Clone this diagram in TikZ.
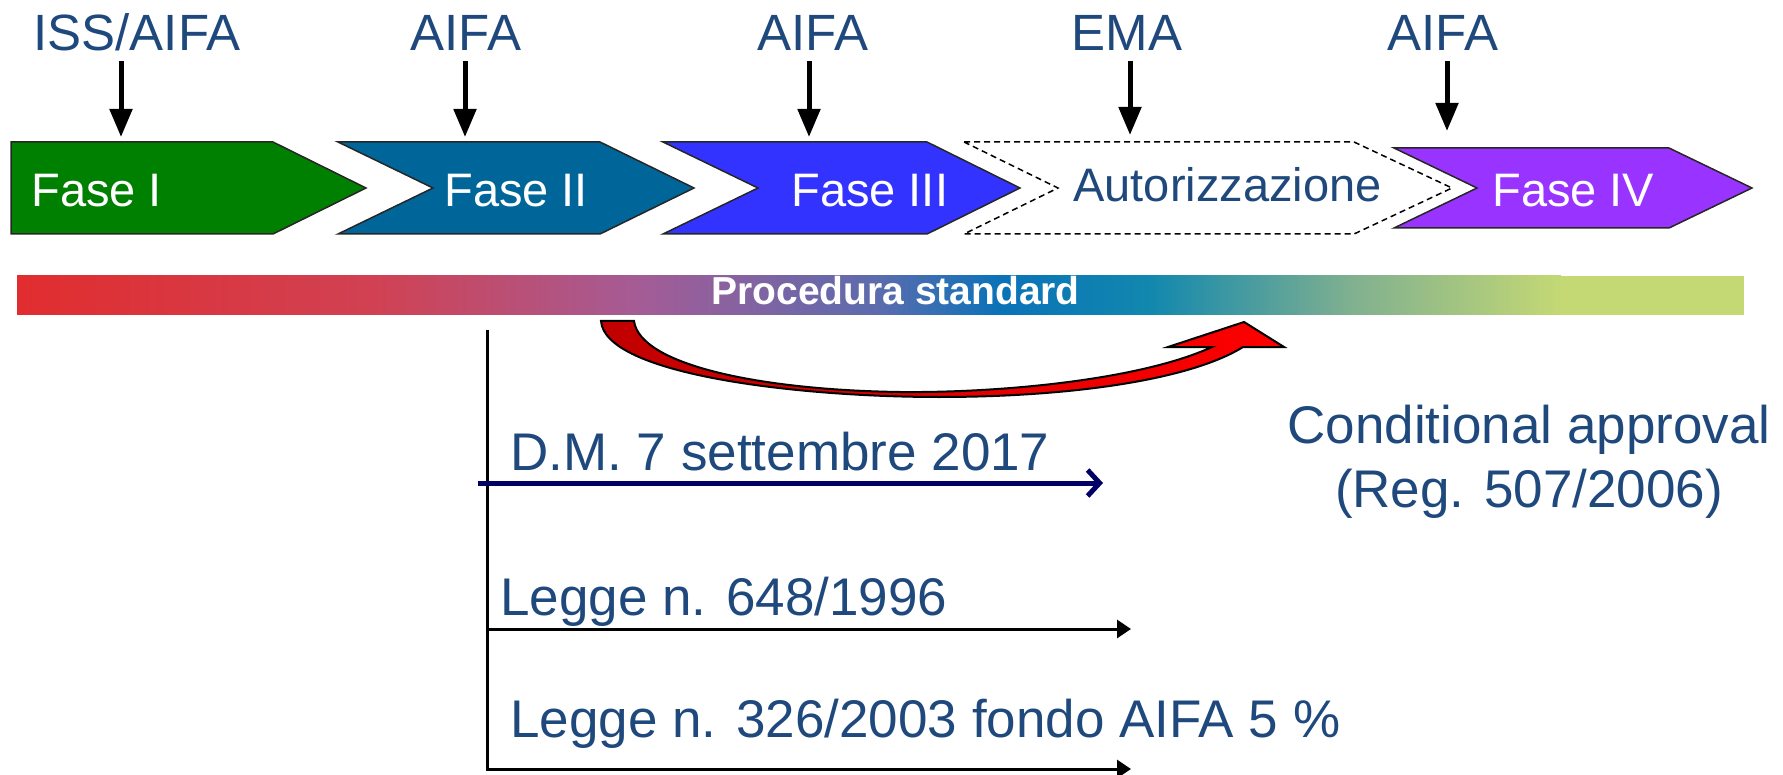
\documentclass[tikz,border=0pt]{standalone}
\usepackage{fontspec}
\setmainfont{Liberation Sans}
\usetikzlibrary{arrows.meta}

\definecolor{testo}{RGB}{31,73,125}
\definecolor{verde}{RGB}{0,128,0}
\definecolor{petrolio}{RGB}{0,102,153}
\definecolor{blu}{RGB}{51,51,255}
\definecolor{viola}{RGB}{153,51,255}
\definecolor{navy}{RGB}{0,0,102}
\definecolor{rossoscuro}{RGB}{192,0,0}
% barra
\definecolor{b1}{RGB}{225,45,47}
\definecolor{b2}{RGB}{208,66,84}
\definecolor{b3}{RGB}{164,92,150}
\definecolor{b4}{RGB}{90,108,174}
\definecolor{b5}{RGB}{10,114,184}
\definecolor{b6}{RGB}{18,136,174}
\definecolor{b7}{RGB}{128,176,144}
\definecolor{b8}{RGB}{196,216,116}

\begin{document}
\begin{tikzpicture}[x=0.5pt, y=-0.5pt,
			etichetta/.style={text=testo, font=\fontsize{25.5}{30}\selectfont, anchor=base, inner sep=0pt},
			fase/.style={text=white, font=\fontsize{23.5}{28}\selectfont, anchor=base west, inner sep=0pt},
			norma/.style={text=testo, font=\fontsize{26.5}{30}\selectfont, anchor=base west, inner sep=0pt},
			chevron/.style={draw=black!85, line width=0.75pt},
			freccia/.style={line width=2.5pt, shorten <=5pt, -{Triangle[length=14pt,width=11pt]}},
			legge/.style={line width=1.5pt, -{Triangle[length=7pt,width=9pt]}}]
	\useasboundingbox (0,0) rectangle (1783,775);
	% fasi
	\draw[chevron, fill=verde] (11,142) -- (273,142) -- (366,188) -- (273,234) -- (11,234) -- cycle;
	\draw[chevron, fill=petrolio] (338,142) -- (600,142) -- (694,188) -- (600,234) -- (338,234) -- (433,188) -- cycle;
	\draw[chevron, fill=blu] (663,142) -- (927,142) -- (1020,188) -- (927,234) -- (663,234) -- (758,188) -- cycle;
	\draw[black, line width=0.75pt, dash pattern=on 3pt off 2pt, fill=white] (964,142) -- (1354,142) -- (1452,188) -- (1354,234) -- (964,234) -- (1058,188) -- cycle;
	\draw[chevron, fill=viola] (1394,148) -- (1669,148) -- (1752,188) -- (1669,228) -- (1394,228) -- (1477,188) -- cycle;
	\node[fase] (f1) at (31,207) {Fase I};
	\node[fase] (f2) at (444,207) {Fase II};
	\node[fase] (f3) at (791,207) {Fase III};
	\node[fase, text=testo] (aut) at (1073,202) {Autorizzazione};
	\node[fase] (f4) at (1492,207) {Fase IV};
	% enti
	\node[etichetta] (l1) at (137,51) {ISS/AIFA};
	\node[etichetta] (l2) at (466,51) {AIFA};
	\node[etichetta] (l3) at (813,51) {AIFA};
	\node[etichetta] (l4) at (1127,51) {EMA};
	\node[etichetta] (l5) at (1443,51) {AIFA};
	\coordinate (t1) at (121,137);
	\coordinate (t2) at (465,137);
	\coordinate (t3) at (809,137);
	\coordinate (t4) at (1130,135);
	\coordinate (t5) at (1447,131);
	\foreach \i in {1,...,5}
		\draw[freccia] (t\i |- l\i.base) -- (t\i);
	% barra procedura standard
	\shade[left color=b1, right color=b2] (17,276) rectangle (381,315);
	\shade[left color=b2, right color=b3] (380,276) rectangle (641,315);
	\shade[left color=b3, right color=b4] (640,276) rectangle (881,315);
	\shade[left color=b4, right color=b5] (880,276) rectangle (1001,315);
	\shade[left color=b5, right color=b6] (1000,276) rectangle (1151,315);
	\shade[left color=b6, right color=b7] (1150,276) rectangle (1351,315);
	\shade[left color=b7, right color=b8] (1350,276) rectangle (1561,315);
	\fill[b8] (1560,276) rectangle (1744,315);
	\node[text=white, font=\bfseries\fontsize{19.5}{22}\selectfont, anchor=base west, inner sep=0pt] (proc) at (711,305) {Procedura standard};
	% freccia rossa
	\path[draw=black, line width=1pt, left color=rossoscuro, right color=red]
		(601,321) .. controls (605,375) and (800,397) .. (939,397)
		.. controls (1070,397) and (1190,380) .. (1243,347) -- (1284,347) -- (1244,322) -- (1168,347) -- (1212,347)
		.. controls (1140,380) and (1000,393) .. (900,392)
		.. controls (760,390) and (640,365) .. (634,321) -- cycle;
	\node[norma, anchor=base] (cond) at (1529,443) {Conditional approval};
	\node[norma, anchor=base] (reg) at (1529,507) {(Reg. 507/2006)};
	% norme
	\coordinate (asseA) at (487,330);
	\coordinate (asseB) at (487,771);
	\draw[line width=1.5pt] (asseA) -- (asseB);
	\node[norma] (dm) at (510,470) {D.M. 7 settembre 2017};
	\node[norma] (l648) at (500,615) {Legge n. 648/1996};
	\node[norma] (l326) at (510,737) {Legge n. 326/2003 fondo AIFA 5 \%};
	\coordinate (dmA) at (478,483);
	\coordinate (dmB) at (1103,483);
	\coordinate (l648B) at (1131,629);
	\coordinate (l326B) at (1131,769);
	\draw[navy, line width=2.5pt, -{Straight Barb[length=6pt,width=13pt]}] (dmA) -- (dmB);
	\draw[legge] (asseA |- l648B) -- (l648B);
	\draw[legge] (asseA |- l326B) -- (l326B);
\end{tikzpicture}
\end{document}
